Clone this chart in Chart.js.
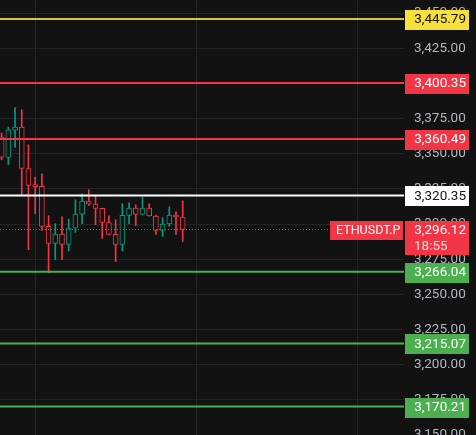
<!DOCTYPE html>
<html>
<head>
<meta charset="utf-8">
<script src="https://cdn.jsdelivr.net/npm/chart.js@4.4.1/dist/chart.umd.min.js"></script>
<style>
    html, body {margin: 0; padding: 0; background: #121212;}
    canvas {display: block;}
</style>
</head>
<body>
<canvas id="eth-chart" width="476" height="435"></canvas>
<script>
// 15m candles, ETHUSDT.P
const opens  = [3362.0, 3347.3, 3366.8, 3368.9, 3339.5, 3327.4, 3326.8, 3298.3, 3286.2, 3292.9, 3285.5, 3297.1, 3307.1, 3316.3,
                3314.2, 3311.1, 3301.1, 3292.6, 3285.5, 3306.2, 3311.4, 3306.8, 3311.4, 3305.7, 3295.4, 3300.0, 3306.4, 3305.0];
const highs  = [3364.8, 3368.9, 3382.8, 3381.2, 3356.3, 3333.4, 3335.7, 3305.9, 3300.2, 3305.2, 3303.5, 3317.2, 3321.5, 3324.4,
                3320.1, 3311.4, 3305.9, 3303.0, 3314.4, 3315.1, 3313.7, 3319.2, 3314.4, 3306.4, 3304.5, 3312.3, 3308.7, 3316.5];
const lows   = [3345.7, 3342.3, 3354.4, 3320.1, 3281.7, 3307.3, 3295.4, 3265.4, 3274.6, 3274.6, 3281.0, 3294.0, 3300.2, 3313.2,
                3299.5, 3289.8, 3292.3, 3273.2, 3281.0, 3300.2, 3298.8, 3306.8, 3305.7, 3292.6, 3291.2, 3298.3, 3292.6, 3287.6];
const closes = [3347.6, 3367.0, 3368.9, 3339.5, 3327.4, 3326.6, 3298.3, 3286.2, 3292.9, 3285.5, 3297.1, 3307.1, 3316.3, 3314.2,
                3311.1, 3301.1, 3292.6, 3285.5, 3306.2, 3311.4, 3306.8, 3311.4, 3305.7, 3295.4, 3300.0, 3306.4, 3305.0, 3296.12];

// horizontal levels drawn on the chart
const levelPrices = [3445.79, 3400.35, 3360.49, 3320.35, 3266.04, 3215.07, 3170.21];
const levelColors = ['#d9c53b', '#f23645', '#f23645', '#ffffff', '#4caf50', '#4caf50', '#4caf50'];
const levelBoxColors = ['#f7e03c', '#f23645', '#f23645', '#ffffff', '#4caf50', '#4caf50', '#4caf50'];
const levelTextColors = ['#131313', '#ffffff', '#ffffff', '#131313', '#ffffff', '#ffffff', '#ffffff'];

const lastPrice = 3296.12;
const symbolName = 'ETHUSDT.P';
const countdown = '18:55';

// time grid (candle index) and price axis
const timeGrid = [5, 29, 53];
const priceMin = 3150.0, priceMax = 3459.3, priceStep = 25;
const xMin = -0.245, xMax = 60;

const UP = '#089981', DOWN = '#f23645', BG = '#121212', GRID = '#242424';
const FONT = 'Roboto, "DejaVu Sans", sans-serif';

const fmt = v => v.toLocaleString('en-US', {minimumFractionDigits: 2, maximumFractionDigits: 2});

const candleColors = opens.map((o, i) => closes[i] >= o ? UP : DOWN);
const bodies = opens.map((o, i) => ({x: i, y: [o, closes[i]]}));
const wicks = opens.map((o, i) => ({x: i, y: [lows[i], highs[i]]}));

const levelSets = levelPrices.map((p, i) => ({
    type: 'line',
    data: [{x: xMin, y: p}, {x: xMax, y: p}],
    borderColor: levelColors[i],
    borderWidth: 2,
    pointRadius: 0,
    order: 0
}));

const lastLine = {
    type: 'line',
    data: [{x: xMin, y: lastPrice}, {x: xMax, y: lastPrice}],
    borderColor: DOWN,
    borderWidth: 1,
    borderDash: [1, 2],
    pointRadius: 0,
    order: 0
};

function drawBox(ctx, x, y, w, h, fill) {
    ctx.fillStyle = fill;
    ctx.fillRect(x, y, w, h);
}

// price labels on the right scale
const labelPlugin = {
    id: 'priceLabels',
    afterDraw(chart) {
        const {ctx, chartArea} = chart;
        const y = chart.scales.y;
        const left = chartArea.right + 1;
        const w = 64;
        ctx.save();
        ctx.font = '13.5px ' + FONT;
        ctx.textBaseline = 'middle';

        levelPrices.forEach((p, i) => {
            const py = y.getPixelForValue(p);
            drawBox(ctx, left, Math.round(py - 9), w, 20, levelBoxColors[i]);
            ctx.fillStyle = levelTextColors[i];
            ctx.textAlign = 'right';
            ctx.fillText(fmt(p), left + w - 3, py + 1);
        });

        const py = y.getPixelForValue(lastPrice);
        drawBox(ctx, left, Math.round(py - 8), w, 34, DOWN);
        drawBox(ctx, chartArea.right - 74, Math.round(py - 8), 73, 19, DOWN);
        ctx.fillStyle = '#ffffff';
        ctx.textAlign = 'right';
        ctx.fillText(fmt(lastPrice), left + w - 3, py + 1.5);
        ctx.fillStyle = '#ffd9dc';
        ctx.textAlign = 'left';
        ctx.fillText(countdown, left + 9, py + 17);
        ctx.fillStyle = '#ffffff';
        ctx.font = '12.5px ' + FONT;
        ctx.fillText(symbolName, chartArea.right - 68, py + 1.5);
        ctx.restore();
    }
};

new Chart(document.getElementById('eth-chart').getContext('2d'), {
    type: 'bar',
    data: {
        datasets: [
            ...levelSets,
            lastLine,
            {
                label: 'body',
                data: bodies,
                backgroundColor: BG,
                borderColor: candleColors,
                borderWidth: 1,
                borderSkipped: false,
                barThickness: 5,
                minBarLength: 2,
                grouped: false,
                order: 1
            },
            {
                label: 'wick',
                data: wicks,
                backgroundColor: candleColors,
                borderWidth: 0,
                barThickness: 1,
                grouped: false,
                order: 2
            }
        ]
    },
    options: {
        responsive: false,
        animation: false,
        layout: {padding: 0},
        scales: {
            x: {
                type: 'linear',
                min: xMin,
                max: xMax,
                offset: false,
                afterBuildTicks: s => { s.ticks = timeGrid.map(v => ({value: v})); },
                afterFit: s => { s.height = 0; s.paddingLeft = 0; s.paddingRight = 0; },
                ticks: {display: false},
                grid: {color: GRID, drawTicks: false, offset: false},
                border: {display: false}
            },
            y: {
                position: 'right',
                min: priceMin,
                max: priceMax,
                afterFit: s => { s.width = 72; s.paddingTop = 0; s.paddingBottom = 0; },
                ticks: {
                    stepSize: priceStep,
                    includeBounds: false,
                    color: '#b2b5be',
                    padding: 10,
                    font: {family: FONT, size: 13.5},
                    callback: v => fmt(v)
                },
                grid: {color: GRID, drawTicks: false},
                border: {display: false}
            }
        },
        plugins: {
            legend: {display: false},
            tooltip: {enabled: false}
        }
    },
    plugins: [labelPlugin]
});
</script>
</body>
</html>
